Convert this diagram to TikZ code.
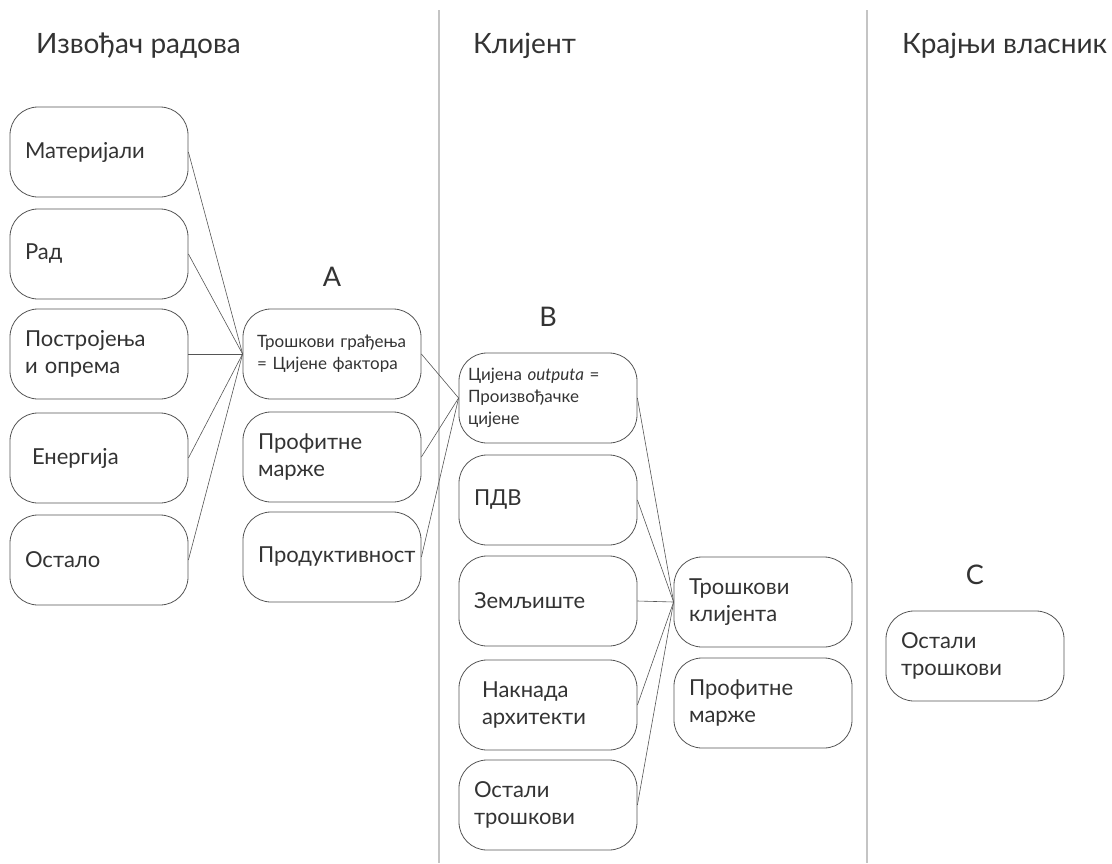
\documentclass[tikz,border=0pt]{standalone}
\usepackage{fontspec}
\setmainfont{Lato}
\definecolor{tekst}{HTML}{333333}
\definecolor{okvir}{HTML}{555555}
\definecolor{razdjel}{HTML}{C4C4C4}
\tikzset{
  stavka/.style={draw=okvir, line width=0.8pt, rounded corners=28pt, text=tekst,
    text width=148pt, inner xsep=15pt, minimum height=90pt, align=left,
    font=\fontsize{22}{27}\selectfont},
  sitno/.style={inner xsep=9pt, text width=160pt, font=\fontsize{17}{22}\selectfont},
  naslov/.style={anchor=base west, text=tekst, inner sep=0pt, font=\fontsize{28}{32}\selectfont},
  oznaka/.style={text=tekst, inner sep=0pt, font=\fontsize{27}{32}\selectfont},
  veza/.style={draw=okvir, line width=0.6pt},
  granica/.style={draw=razdjel, line width=1.2pt}
}

\begin{document}
\begin{tikzpicture}[x=1pt,y=-1pt]
\useasboundingbox (0,0) rectangle (1112,863);
\draw[granica] (439,10) -- (439,863);
\draw[granica] (867,10) -- (867,863);
\node[naslov] (izvodjac) at (36,53) {Извођач радова};
\node[naslov] (klijent) at (473,53) {Клијент};
\node[naslov] (vlasnik) at (902,53) {Крајњи власник};
\node[stavka] (materijali) at (99,152) {Материјали};
\node[stavka] (rad) at (99,254) {Рад};
\node[stavka] (postrojenja) at (99,354) {Постројења\\и опрема};
\node[stavka] (energija) at (99,458) {\hspace*{7pt}Енергија};
\node[stavka] (ostalo) at (99,560) {Остало};
\node[oznaka] (A) at (332,277) {A};
\node[stavka, sitno, inner xsep=14pt, text width=150pt] (gradjenje) at (332,354) {Трошкови грађења\\= Цијене фактора};
\node[stavka] (marzeA) at (332,457) {Профитне\\марже};
\node[stavka] (produktivnost) at (332,557) {Продуктивност};
\node[oznaka] (B) at (548,317) {B};
\node[stavka, sitno] (output) at (548,398) {Цијена \textit{outputa} =\\Произвођачке\\цијене};
\node[stavka] (pdv) at (548,500) {ПДВ};
\node[stavka] (zemljiste) at (548,601) {Земљиште};
\node[stavka] (naknada) at (548,705) {\hspace*{8pt}Накнада\\\hspace*{8pt}архитекти};
\node[stavka] (ostaliB) at (548,805) {Остали\\трошкови};
\node[stavka] (troskovi) at (763,602) {Трошкови\\клијента};
\node[stavka] (marzeB) at (763,703) {Профитне\\марже};
\node[oznaka] (C) at (975,575) {C};
\node[stavka] (ostaliC) at (975,656) {Остали\\трошкови};
\foreach \n in {materijali,rad,postrojenja,energija,ostalo}
  \draw[veza] (\n.east) -- (gradjenje.west);
\foreach \n in {gradjenje,marzeA,produktivnost}
  \draw[veza] (\n.east) -- (output.west);
\foreach \n in {output,pdv,zemljiste,naknada,ostaliB}
  \draw[veza] (\n.east) -- (troskovi.west);
\end{tikzpicture}
\end{document}
